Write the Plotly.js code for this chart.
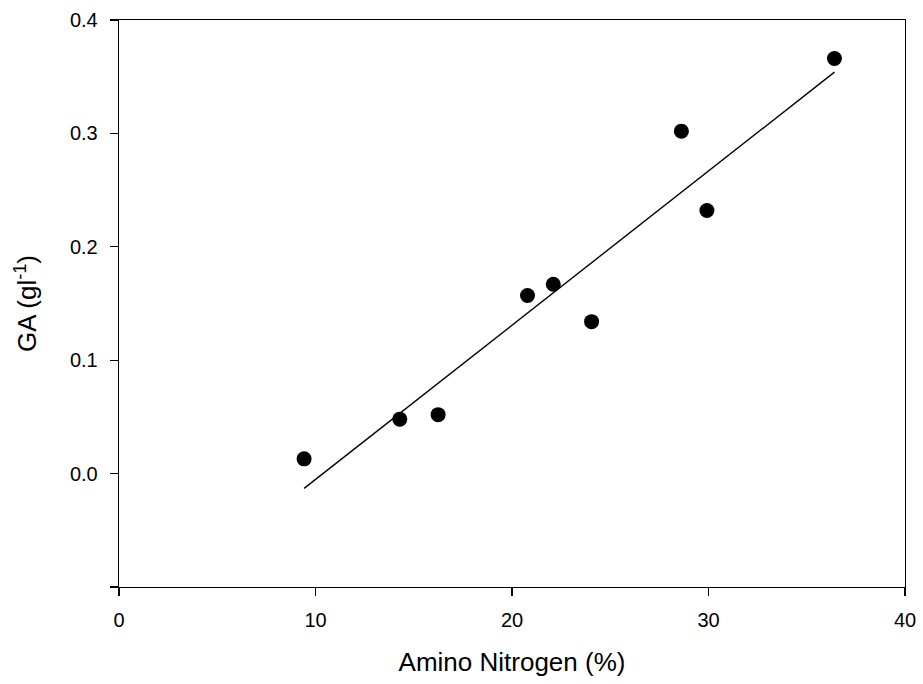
<!DOCTYPE html>
<html>
<head>
<meta charset="utf-8">
<script src="https://cdn.plot.ly/plotly-3.0.1.min.js"></script>
<style>html,body{margin:0;padding:0;background:#fff;} #chart{width:923px;height:684px;}</style>
</head>
<body>
<div id="chart"></div>
<script>
// Measured data points
const aminoNitrogen = [9.42, 14.29, 16.24, 20.79, 22.10, 24.05, 28.62, 29.92, 36.41];
const gaValues = [0.013, 0.048, 0.052, 0.157, 0.167, 0.134, 0.302, 0.232, 0.366];
// Regression line endpoints
const fitX = [9.42, 36.41];
const fitY = [-0.013, 0.354];
// Axis ticks
const xTickVals = [0, 10, 20, 30, 40];
const xTickText = ['0', '10', '20', '30', '40'];
const yTickVals = [0.0, 0.1, 0.2, 0.3, 0.4];
const yTickText = ['0.0', '0.1', '0.2', '0.3', '0.4'];
const yUnlabeledTicks = [-0.1];

const font = 'Liberation Sans, Arial, Helvetica, sans-serif';

const traces = [
  {x: fitX, y: fitY, mode: 'lines', type: 'scatter',
   line: {color: '#000', width: 1.4}, hoverinfo: 'skip'},
  {x: aminoNitrogen, y: gaValues, mode: 'markers', type: 'scatter',
   marker: {color: '#000', size: 15, line: {width: 0}}}
];

const layout = {
  width: 923, height: 684,
  margin: {l: 119, r: 18, t: 20, b: 97},
  paper_bgcolor: '#fff', plot_bgcolor: '#fff',
  showlegend: false,
  font: {family: font, color: '#000', size: 20},
  xaxis: {
    range: [0, 40], tickmode: 'array', tickvals: xTickVals, ticktext: xTickText,
    showgrid: false, zeroline: false,
    showline: true, linecolor: '#000', linewidth: 1.3, mirror: true,
    ticks: 'outside', ticklen: 8, tickwidth: 1.3, tickcolor: '#000',
    tickfont: {family: font, size: 20, color: '#000'},
    ticklabelstandoff: 7,
    title: {text: 'Amino Nitrogen (%)', font: {family: font, size: 26, color: '#000'}, standoff: 22}
  },
  yaxis: {
    range: [-0.1, 0.4], tickmode: 'array', tickvals: yTickVals, ticktext: yTickText,
    showgrid: false, zeroline: false,
    showline: true, linecolor: '#000', linewidth: 1.3, mirror: true,
    ticks: 'outside', ticklen: 8, tickwidth: 1.3, tickcolor: '#000',
    minor: {tickmode: 'array', tickvals: yUnlabeledTicks, ticks: 'outside', ticklen: 8, tickwidth: 1.3, tickcolor: '#000', showgrid: false},
    tickfont: {family: font, size: 20, color: '#000'},
    ticklabelstandoff: 8,
    title: {text: 'GA (gl<sup>-1</sup>)', font: {family: font, size: 26, color: '#000'}, standoff: 25}
  }
};

Plotly.newPlot('chart', traces, layout, {displayModeBar: false, staticPlot: true});
</script>
</body>
</html>
